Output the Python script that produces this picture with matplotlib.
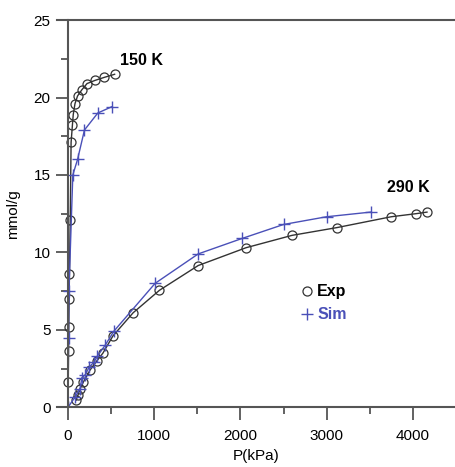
import matplotlib.pyplot as plt
from matplotlib.ticker import MultipleLocator

plt.rcParams["font.family"] = ["Liberation Sans", "DejaVu Sans"]

# 150 K isotherm
p_exp_150 = [2, 5, 8, 12, 16, 25, 35, 50, 60, 80, 110, 160, 220, 310, 420, 540]
q_exp_150 = [1.6, 3.6, 5.2, 7.0, 8.6, 12.1, 17.1, 18.2, 18.9, 19.6, 20.1, 20.5, 20.9, 21.1, 21.3, 21.5]
p_sim_150 = [0, 5, 10, 55, 110, 190, 345, 505]
q_sim_150 = [0, 4.45, 7.5, 15.0, 16.0, 17.9, 19.0, 19.4]

# 290 K isotherm
p_exp_290 = [93, 116, 140, 175, 255, 335, 405, 520, 755, 1060, 1510,
             2065, 2600, 3120, 3750, 4040, 4165]
q_exp_290 = [0.45, 0.8, 1.2, 1.6, 2.4, 3.0, 3.5, 4.6, 6.1, 7.55, 9.15,
             10.3, 11.1, 11.6, 12.3, 12.5, 12.6]
p_sim_290 = [0, 80, 140, 160, 200, 245, 300, 340, 430, 530, 1010, 1510,
             2020, 2500, 3000, 3510]
q_sim_290 = [0, 0.65, 1.2, 1.9, 2.1, 2.6, 2.9, 3.3, 4.0, 4.9, 8.0, 9.9,
             10.9, 11.8, 12.3, 12.6]

exp_color = "#333333"
sim_color = "#4a50b8"
axis_color = "#555555"

fig = plt.figure(figsize=(4.55, 4.67), dpi=100)
ax = fig.add_axes([0.125, 0.128, 0.875, 0.829])

exp_style = dict(marker="o", markersize=6.5, markerfacecolor="none",
                 markeredgecolor=exp_color, markeredgewidth=0.9,
                 color=exp_color, linewidth=1.0)
sim_style = dict(marker="+", markersize=8, markeredgewidth=1.0,
                 color=sim_color, linewidth=1.0)

ax.plot(p_exp_150, q_exp_150, **exp_style)
ax.plot(p_sim_150, q_sim_150, **sim_style)
ax.plot(p_exp_290, q_exp_290, label="Exp", **exp_style)
ax.plot(p_sim_290, q_sim_290, label="Sim", **sim_style)

ax.set_xlim(-130, 4490)
ax.set_ylim(0, 25)

# y axis sits at P = 0, open on the right
ax.spines["left"].set_position(("data", 0))
ax.spines["right"].set_visible(False)
for s in ["left", "top", "bottom"]:
    ax.spines[s].set_color(axis_color)
    ax.spines[s].set_linewidth(1.5)

ax.xaxis.set_major_locator(MultipleLocator(1000))
ax.xaxis.set_minor_locator(MultipleLocator(500))
ax.yaxis.set_major_locator(MultipleLocator(5))
ax.yaxis.set_minor_locator(MultipleLocator(2.5))
ax.tick_params(which="major", direction="out", length=9, width=1.3,
               color=axis_color, labelsize=11)
ax.tick_params(which="minor", direction="out", length=5, width=1.3,
               color=axis_color)
ax.tick_params(axis="x", which="major", pad=7)
ax.tick_params(axis="x", which="both", top=False)

ax.set_xlabel("P(kPa)", fontsize=11, labelpad=4)
ax.set_ylabel("mmol/g", fontsize=11)
ax.yaxis.set_label_coords(-0.093, 0.5)

ax.text(603, 22.4, "150 K", fontsize=11.5, fontweight="bold", va="center")
ax.text(3700, 14.2, "290 K", fontsize=11.5, fontweight="bold", va="center")

leg = ax.legend(loc="center left", bbox_to_anchor=(0.578, 0.268), frameon=False,
                handlelength=0.7, handletextpad=0.3, labelspacing=0.5,
                prop={"weight": "bold", "size": 11.5})
for h in leg.legend_handles:
    h.set_linestyle("none")
leg.get_texts()[1].set_color(sim_color)

fig.savefig("out.png", dpi=100)
